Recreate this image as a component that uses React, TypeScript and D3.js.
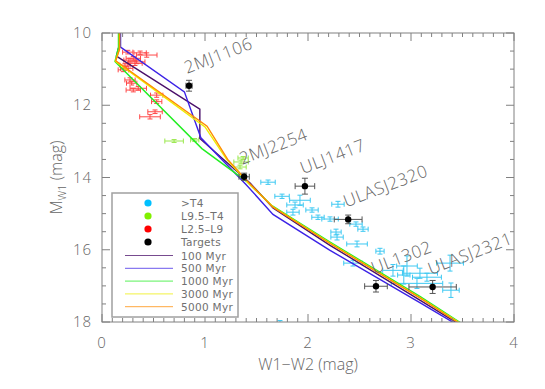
import React from "react";
import * as d3 from "d3";

// ---- data ----
const targetNames = ["2MJ1106", "2MJ2254", "ULJ1417", "ULASJ2320", "UL1302", "ULASJ2321"];
const targetColor = [0.845, 1.38, 1.97, 2.39, 2.66, 3.21];
const targetMag = [11.46, 13.98, 14.24, 15.16, 17.01, 17.03];
const targetColorErr = [0.03, 0.05, 0.095, 0.135, 0.11, 0.23];
const targetMagErr = [0.15, 0.1, 0.22, 0.12, 0.16, 0.18];

// >T4 dwarfs: [W1-W2, M_W1, err W1-W2, err M_W1]
const lateT = [
  [1.612, 14.13, 0.07, 0.06], [1.748, 14.52, 0.07, 0.06], [1.922, 14.63, 0.1, 0.14],
  [1.874, 14.76, 0.08, 0.08], [1.854, 14.96, 0.06, 0.08], [2.039, 14.9, 0.06, 0.06],
  [2.097, 15.1, 0.06, 0.06], [2.291, 14.74, 0.06, 0.08], [2.214, 15.15, 0.08, 0.06],
  [2.272, 15.51, 0.05, 0.08], [2.282, 15.65, 0.06, 0.08], [2.466, 15.29, 0.06, 0.06],
  [2.534, 15.43, 0.05, 0.06], [2.476, 15.84, 0.1, 0.08], [2.699, 16.04, 0.04, 0.08],
  [2.437, 16.37, 0.09, 0.08], [2.825, 16.57, 0.1, 0.16], [2.961, 16.45, 0.1, 0.28],
  [3.087, 16.65, 0.17, 0.14], [3.155, 16.76, 0.14, 0.11], [3.058, 16.93, 0.25, 0.14],
  [3.379, 16.37, 0.13, 0.22], [3.388, 17.12, 0.08, 0.2], [2.93, 16.7, 0.06, 0.25],
  [1.728, 18.06, 0.02, 0.1],
];
// L9.5-T4
const lT = [
  [0.7, 12.99, 0.09, 0.04], [0.9, 12.96, 0.04, 0.04], [1.35, 13.57, 0.07, 0.05],
  [1.34, 13.71, 0.06, 0.05], [1.37, 13.46, 0.05, 0.04],
];
// L2.5-L9
const earlyL = [
  [0.434, 10.61, 0.1, 0.06], [0.304, 10.7, 0.07, 0.05], [0.337, 10.8, 0.08, 0.05],
  [0.272, 10.75, 0.06, 0.05], [0.223, 10.89, 0.05, 0.05], [0.32, 10.84, 0.07, 0.06],
  [0.24, 10.98, 0.06, 0.05], [0.207, 11.02, 0.05, 0.05], [0.272, 11.3, 0.05, 0.06],
  [0.288, 11.39, 0.05, 0.05], [0.352, 11.53, 0.08, 0.05], [0.304, 11.58, 0.07, 0.05],
  [0.531, 11.72, 0.06, 0.06], [0.531, 11.9, 0.05, 0.05], [0.515, 12.18, 0.07, 0.05],
  [0.466, 12.32, 0.1, 0.06], [0.25, 10.53, 0.05, 0.05], [0.37, 10.55, 0.06, 0.05],
];

// model isochrones: [W1-W2, M_W1]
const ages = ["100 Myr", "500 Myr", "1000 Myr", "3000 Myr", "5000 Myr"];
const ageColors = ["#4a0f6a", "#3b22e6", "#22ee22", "#eeee00", "#ff8c00"];
const iso100 = [[0.17, 9.8], [0.17, 10.3], [0.14, 10.64], [0.95, 12.11], [0.95, 12.92], [1.44, 14.16], [1.66, 14.84], [2.21, 15.87], [3.09, 17.4], [3.46, 18.05]];
const iso500 = [[0.18, 9.8], [0.18, 10.39], [0.8, 11.63], [0.96, 12.9], [1.4, 14.2], [1.66, 15.02], [2.21, 16.01], [3.09, 17.47], [3.45, 18.08]];
const iso1000 = [[0.16, 9.8], [0.16, 10.4], [0.126, 10.79], [0.97, 13.2], [1.4, 14.1], [1.65, 14.78], [2.21, 15.78], [3.09, 17.3], [3.48, 18.02]];
const iso3000 = [[0.17, 9.8], [0.17, 10.45], [0.13, 10.78], [1.0, 12.6], [1.21, 13.5], [1.43, 14.18], [1.66, 14.81], [2.21, 15.81], [3.09, 17.33], [3.47, 18.02]];
const iso5000 = [[0.17, 9.8], [0.17, 10.45], [0.133, 10.77], [1.02, 12.58], [1.22, 13.5], [1.44, 14.19], [1.66, 14.82], [2.21, 15.82], [3.09, 17.34], [3.46, 18.02]];
const isochrones = [iso100, iso500, iso1000, iso3000, iso5000];

const groups = [">T4", "L9.5\u2013T4", "L2.5\u2013L9", "Targets"];
const groupDot = ["#00c0ff", "#80f000", "#ff0000", "#000000"];
const groupBar = ["#3cc8f2", "#9be84e", "#ff4848", "#555555"];

const xTicks = [0, 1, 2, 3, 4];
const yTicks = [10, 12, 14, 16, 18];

const FONT = "'Open Sans', 'DejaVu Sans', sans-serif";
const GREY = "#666666";

function ErrBar({ cx, cy, ex, ey, color, cap }) {
  return (
    <g stroke={color} strokeWidth={1} fill="none">
      <line x1={cx - ex} x2={cx + ex} y1={cy} y2={cy} />
      <line x1={cx} x2={cx} y1={cy - ey} y2={cy + ey} />
      <line x1={cx - ex} x2={cx - ex} y1={cy - cap} y2={cy + cap} />
      <line x1={cx + ex} x2={cx + ex} y1={cy - cap} y2={cy + cap} />
      <line x1={cx - cap} x2={cx + cap} y1={cy - ey} y2={cy - ey} />
      <line x1={cx - cap} x2={cx + cap} y1={cy + ey} y2={cy + ey} />
    </g>
  );
}

export default function App() {
  const width = 545;
  const height = 389;
  const x = d3.scaleLinear().domain([0, 4]).range([102, 514]);
  const y = d3.scaleLinear().domain([10, 18]).range([33, 322]);
  const [x0, x1] = x.range();
  const [y0, y1] = y.range();

  const line = d3
    .line()
    .x((d) => x(d[0]))
    .y((d) => y(d[1]));

  const xMinor = d3.range(0, 40.5, 1).map((v) => v / 10);
  const yMinor = d3.range(20, 36.5, 1).map((v) => v / 2);

  const scatter = [lateT, lT, earlyL];

  return (
    <svg
      width={width}
      height={height}
      style={{ position: "absolute", left: 0, top: 0, background: "#fff" }}
      fontFamily={FONT}
      fontWeight={300}
    >
      <defs>
        <clipPath id="plot">
          <rect x={x0} y={y0} width={x1 - x0} height={y1 - y0} />
        </clipPath>
      </defs>

      {/* comparison samples */}
      <g clipPath="url(#plot)">
        {scatter.map((set, si) =>
          set.map((d, i) => (
            <ErrBar
              key={si + "-" + i}
              cx={x(d[0])}
              cy={y(d[1])}
              ex={x(d[2]) - x(0)}
              ey={y(10 + d[3]) - y(10)}
              color={groupBar[si]}
              cap={2.5}
            />
          ))
        )}
      </g>

      {/* isochrones */}
      <g clipPath="url(#plot)" fill="none">
        {isochrones.map((iso, i) => (
          <path key={ages[i]} d={line(iso)} stroke={ageColors[i]} strokeWidth={1.4} />
        ))}
      </g>

      {/* targets */}
      {targetNames.map((name, i) => {
        const cx = x(targetColor[i]);
        const cy = y(targetMag[i]);
        return (
          <g key={name}>
            <ErrBar
              cx={cx}
              cy={cy}
              ex={x(targetColorErr[i]) - x(0)}
              ey={y(10 + targetMagErr[i]) - y(10)}
              color={groupBar[3]}
              cap={3}
            />
            <circle cx={cx} cy={cy} r={3.2} fill="#000" />
            <text
              transform={`translate(${cx - 2},${cy - 12}) rotate(-21)`}
              fontSize={17}
              letterSpacing={0.6}
              fill={GREY}
            >
              {name}
            </text>
          </g>
        );
      })}

      {/* frame and ticks */}
      <rect x={x0} y={y0} width={x1 - x0} height={y1 - y0} fill="none" stroke="#808080" strokeWidth={1} />
      <g stroke="#808080" strokeWidth={1}>
        {xMinor.map((v) => {
          const len = Math.abs(v - Math.round(v)) < 1e-6 ? 8 : 4;
          return (
            <g key={"xt" + v}>
              <line x1={x(v)} x2={x(v)} y1={y1} y2={y1 - len} />
              <line x1={x(v)} x2={x(v)} y1={y0} y2={y0 + len} />
            </g>
          );
        })}
        {yMinor.map((v) => {
          const len = v % 2 === 0 ? 8 : 4;
          return (
            <g key={"yt" + v}>
              <line x1={x0} x2={x0 + len} y1={y(v)} y2={y(v)} />
              <line x1={x1} x2={x1 - len} y1={y(v)} y2={y(v)} />
            </g>
          );
        })}
      </g>
      <g fontSize={15} fill={GREY} letterSpacing={1}>
        {xTicks.map((v) => (
          <text key={"xl" + v} x={x(v)} y={348} textAnchor="middle">
            {v}
          </text>
        ))}
        {yTicks.map((v) => (
          <text key={"yl" + v} x={92} y={y(v) + 5} textAnchor="end">
            {v}
          </text>
        ))}
      </g>
      <text x={(x0 + x1) / 2} y={370} textAnchor="middle" fontSize={16} fill={GREY}>
        W1{"\u2212"}W2 (mag)
      </text>
      <text transform={`translate(62,${(y0 + y1) / 2}) rotate(-90)`} textAnchor="middle" fontSize={16} fill={GREY}>
        M<tspan fontSize={11} dy={4}>W1</tspan>
        <tspan dy={-4}> (mag)</tspan>
      </text>

      {/* legend */}
      <g fontFamily="'DejaVu Sans', sans-serif" fontWeight={400}>
        <rect x={112} y={193} width={126} height={124} fill="#fff" stroke="#a0a0a0" strokeWidth={1.5} />
        {groups.map((g, i) => (
          <g key={g}>
            <circle cx={148} cy={203 + i * 13} r={3.6} fill={groupDot[i]} />
            <text x={181} y={207 + i * 13} fontSize={10.5} letterSpacing={0.3} fill="#707070">
              {g}
            </text>
          </g>
        ))}
        {ages.map((a, i) => (
          <g key={a}>
            <line x1={125} x2={173} y1={255.5 + i * 12.8} y2={255.5 + i * 12.8} stroke={ageColors[i]} strokeWidth={1} opacity={0.75} />
            <text x={181} y={259.5 + i * 12.8} fontSize={10.5} letterSpacing={0.3} fill="#707070">
              {a}
            </text>
          </g>
        ))}
      </g>
    </svg>
  );
}
